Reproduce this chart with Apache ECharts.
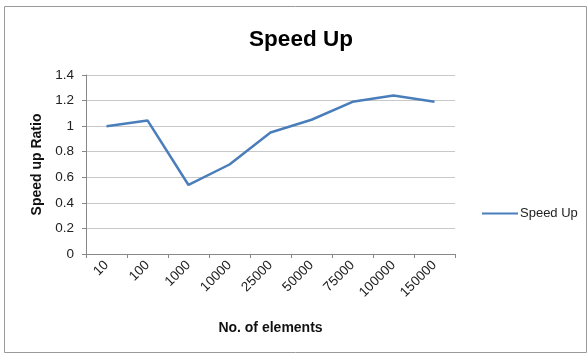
<!DOCTYPE html>
<html>
<head>
<meta charset="utf-8">
<script src="https://cdn.jsdelivr.net/npm/echarts@6/dist/echarts.min.js"></script>
<style>
  html, body { margin: 0; padding: 0; background: #fff; }
  #chart { width: 588px; height: 358px; }
</style>
</head>
<body>
<div id="chart"></div>
<script>
// Number of elements per run (x categories)
const categories = ['10', '100', '1000', '10000', '25000', '50000', '75000', '100000', '150000'];
// Measured speed-up ratio for each size
const speedUp = [1.0, 1.045, 0.54, 0.70, 0.95, 1.05, 1.19, 1.24, 1.19];
// Value axis range
const yMin = 0, yMax = 1.4, yStep = 0.2;

const font = '"Liberation Sans", Arial, sans-serif';
const chart = echarts.init(document.getElementById('chart'), null, { renderer: 'canvas' });

chart.setOption({
  animation: false,
  backgroundColor: '#fff',
  title: {
    text: 'Speed Up',
    left: 296, top: 23, textAlign: 'center',
    textStyle: { fontFamily: font, fontSize: 22.5, fontWeight: 'bold', color: '#000' }
  },
  graphic: [{
    type: 'rect',
    shape: { x: 4.5, y: 6.5, width: 582, height: 346 },
    style: { fill: 'none', stroke: '#9a9a9a', lineWidth: 1 },
    silent: true
  }],
  legend: {
    data: ['Speed Up'],
    left: 477, top: 202,
    itemWidth: 36, itemHeight: 14, itemGap: 2,
    icon: 'path://M0,6L36,6L36,8L0,8Z',
    textStyle: { fontFamily: font, fontSize: 13, color: '#222', padding: [0, 0, 0, -3] }
  },
  grid: { left: 86, top: 75, width: 369, height: 179, containLabel: false },
  xAxis: {
    type: 'category',
    data: categories,
    boundaryGap: true,
    name: 'No. of elements',
    nameLocation: 'middle',
    nameGap: 67,
    nameTextStyle: { fontFamily: font, fontSize: 14, fontWeight: 'bold', color: '#111' },
    axisLine: { lineStyle: { color: '#888', width: 1 } },
    axisTick: { show: true, length: 4, lineStyle: { color: '#888' } },
    axisLabel: { rotate: 45, fontFamily: font, fontSize: 13.5, color: '#222', margin: 9 },
    splitLine: { show: false }
  },
  yAxis: {
    type: 'value',
    min: yMin, max: yMax, interval: yStep,
    name: 'Speed up Ratio',
    nameLocation: 'middle',
    nameGap: 42,
    nameRotate: 90,
    nameTextStyle: { fontFamily: font, fontSize: 14, fontWeight: 'bold', color: '#111' },
    axisLine: { show: true, lineStyle: { color: '#888', width: 1 } },
    axisTick: { show: true, length: 4, lineStyle: { color: '#888' } },
    axisLabel: {
      fontFamily: font, fontSize: 13.5, color: '#222', margin: 12,
      formatter: v => String(+v.toFixed(1))
    },
    splitLine: { show: true, lineStyle: { color: '#c8c8c8', width: 1 } }
  },
  series: [{
    name: 'Speed Up',
    type: 'line',
    data: speedUp,
    showSymbol: false,
    symbol: 'none',
    lineStyle: { color: '#4a7ebb', width: 2.5 },
    itemStyle: { color: '#4a7ebb' }
  }]
});
</script>
</body>
</html>
